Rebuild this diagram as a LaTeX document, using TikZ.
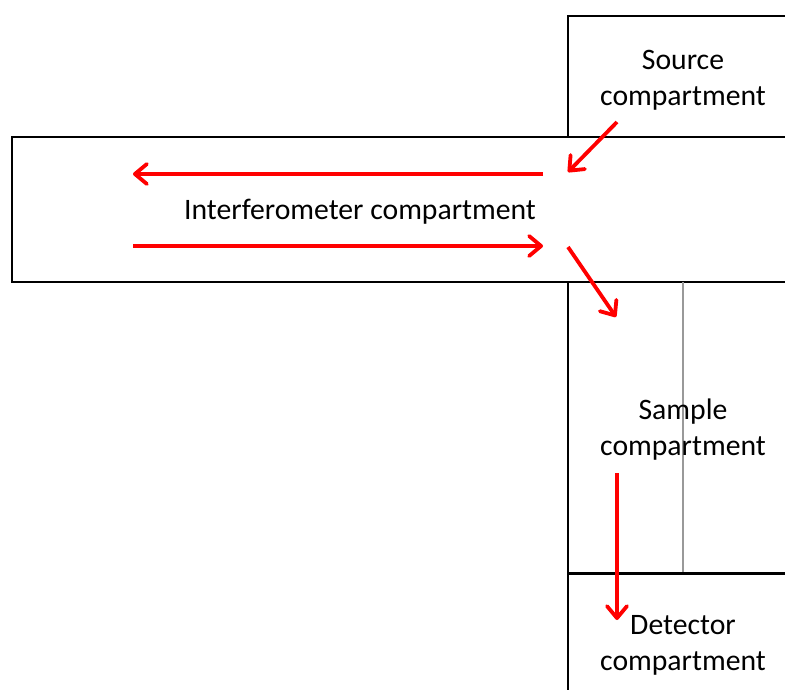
\documentclass[tikz,border=0pt]{standalone}
\usepackage{fontspec}
\setmainfont{Carlito}
\usetikzlibrary{arrows.meta}
\begin{document}
\begin{tikzpicture}[x=1pt,y=-1pt,
  wall/.style={draw=black,line width=2.3pt},
  label/.style={font=\fontsize{29.7}{36}\selectfont,align=center,text=black,inner sep=0pt},
  beam/.style={draw=red,line width=3.8pt,-{Straight Barb[length=12pt,width=20pt,line width=3.8pt,round]}}]
\useasboundingbox (0,0) rectangle (785,689);
% compartment walls
\draw[wall] (568,137) -- (568,16) -- (786,16);
\draw[wall] (786,137) -- (12,137) -- (12,282) -- (786,282);
\draw[wall] (568,282) -- (568,690);
\draw[draw=black!40,line width=1.5pt] (683,282) -- (683,573);
\draw[draw=black,line width=3pt] (568,573) -- (786,573);
% labels
\node[label] (src) at (683,80) {Source\\compartment};
\node[label] (ifm) at (360,212) {Interferometer compartment};
\node[label] (smp) at (683,430) {Sample\\compartment};
\node[label] (det) at (683,645) {Detector\\compartment};
% beam path
\coordinate (s1) at (617,122);
\coordinate (s2) at (568,172);
\coordinate (l1) at (543,174);
\coordinate (l2) at (133,174);
\coordinate (r1) at (133,246);
\coordinate (r2) at (543,246);
\coordinate (d1) at (568,247);
\coordinate (d2) at (616,317);
\coordinate (v1) at (617,473);
\coordinate (v2) at (617,620);
\draw[beam] (s1) -- (s2);
\draw[beam] (l1) -- (l2);
\draw[beam] (r1) -- (r2);
\draw[beam] (d1) -- (d2);
\draw[beam] (v1) -- (v2);
\end{tikzpicture}
\end{document}
